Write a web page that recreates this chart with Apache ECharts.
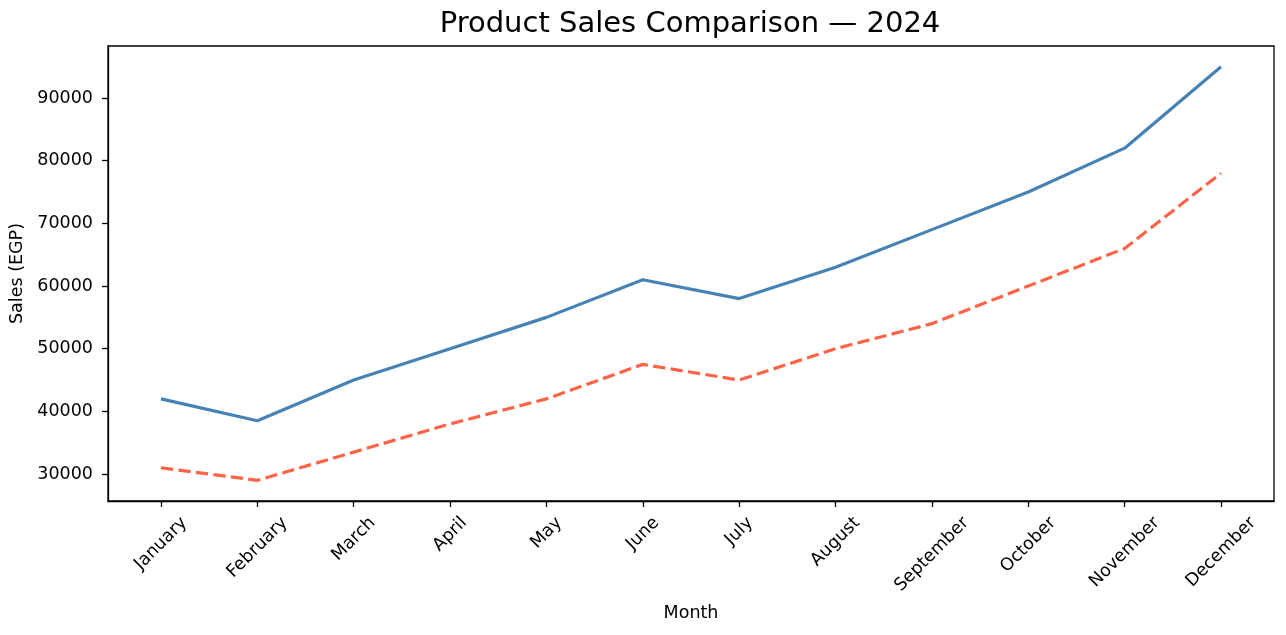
<!DOCTYPE html>
<html>
<head>
<meta charset="utf-8">
<script src="https://cdn.jsdelivr.net/npm/echarts@6/dist/echarts.min.js"></script>
<style>
  html, body { margin: 0; padding: 0; background: #fff; }
  #main { width: 1286px; height: 635px; }
</style>
</head>
<body>
<div id="main"></div>
<script>
var months = ['January', 'February', 'March', 'April', 'May', 'June',
  'July', 'August', 'September', 'October', 'November', 'December'];
var productA = [42000, 38500, 45000, 50000, 55000, 61000, 58000, 63000, 69000, 75000, 82000, 95000];
var productB = [31000, 29000, 33500, 38000, 42000, 47500, 45000, 50000, 54000, 60000, 66000, 78000];
var yTicks = [30000, 40000, 50000, 60000, 70000, 80000, 90000];
var monthIdx = months.map(function (m, i) { return i; });

var FONT = '"DejaVu Sans", sans-serif';
var tickFont = 17.5;
var yMin = 25700, yMax = 98300;

// measure label widths so rotated labels sit like matplotlib's (centered, top-anchored)
var mctx = document.createElement('canvas').getContext('2d');
mctx.font = tickFont + 'px ' + FONT;
function textW(s) { return mctx.measureText(s).width; }

var chart = echarts.init(document.getElementById('main'));

var option = {
  animation: false,
  backgroundColor: '#fff',
  title: {
    text: 'Product Sales Comparison — 2024',
    left: 690,
    top: 10,
    padding: 0,
    textAlign: 'center',
    textStyle: { fontFamily: FONT, fontSize: 29, fontWeight: 'normal', color: '#000' }
  },
  grid: {
    left: 108, right: 12, top: 46, bottom: 134,
    show: true, borderColor: '#000', borderWidth: 1.3, backgroundColor: 'transparent'
  },
  xAxis: {
    type: 'value',
    min: -0.55,
    max: 11.55,
    name: 'Month',
    nameLocation: 'middle',
    nameGap: 103,
    nameTextStyle: { fontFamily: FONT, fontSize: tickFont, color: '#000' },
    axisLine: { show: true, onZero: false, lineStyle: { color: '#000', width: 1.3 } },
    axisTick: { show: true, length: 6, customValues: monthIdx, lineStyle: { color: '#000', width: 1.3 } },
    axisLabel: { show: false },
    splitLine: { show: false }
  },
  yAxis: {
    type: 'value',
    min: yMin,
    max: yMax,
    name: 'Sales (EGP)',
    nameLocation: 'middle',
    nameGap: 77,
    nameTextStyle: { fontFamily: FONT, fontSize: tickFont, color: '#000' },
    axisLine: { show: true, onZero: false, lineStyle: { color: '#000', width: 1.3 } },
    axisTick: { show: true, inside: false, length: 6, customValues: yTicks, lineStyle: { color: '#000', width: 1.3 } },
    axisLabel: {
      customValues: yTicks,
      margin: 15,
      align: 'right',
      verticalAlign: 'middle',
      formatter: function (v) { return String(v); },
      fontFamily: FONT, fontSize: tickFont, color: '#000'
    },
    splitLine: { show: false }
  },
  series: [
    {
      name: 'Product A',
      type: 'line',
      data: productA.map(function (v, i) { return [i, v]; }),
      showSymbol: false,
      lineStyle: { color: '#4682B4', width: 3.2 },
      itemStyle: { color: '#4682B4' }
    },
    {
      name: 'Product B',
      type: 'line',
      data: productB.map(function (v, i) { return [i, v]; }),
      showSymbol: false,
      lineStyle: { color: '#FF6347', width: 3.2, type: [12.3, 5.3], cap: 'butt' },
      itemStyle: { color: '#FF6347' }
    },
    {
      // month tick labels, rotated 45 deg
      type: 'custom',
      clip: false,
      silent: true,
      data: monthIdx.map(function (i) { return [i, yMin]; }),
      renderItem: function (params, api) {
        var i = api.value(0);
        var p = api.coord([i, yMin]);
        var label = months[i];
        var w = textW(label);
        var h = tickFont * 1.164;
        var half = (w + h) * Math.SQRT1_2 / 2;
        return {
          type: 'text',
          x: p[0],
          y: p[1] + 12 + half,
          rotation: Math.PI / 4,
          style: {
            text: label,
            x: 0, y: 0,
            align: 'center',
            verticalAlign: 'middle',
            font: tickFont + 'px ' + FONT,
            fill: '#000'
          }
        };
      }
    }
  ]
};

chart.setOption(option);
</script>
</body>
</html>
